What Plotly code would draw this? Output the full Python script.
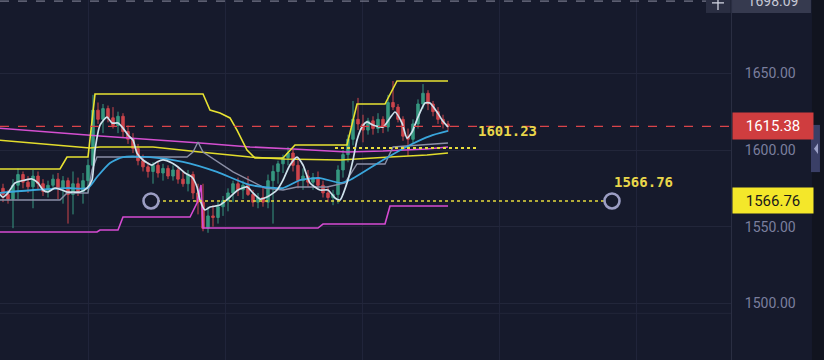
import plotly.graph_objects as go

BG = "#161a2c"

# ---- candles (index, open, high, low, close) ----
idx = list(range(90))
opens = [1575,1571,1568,1577,1584,1579,1576,1583,1578,1573,1577,1581,1575,1580,1571,1578,1573,1580,1590,1626,
         1620,1627,1621,1616,1622,1612,1607,1601,1593,1589,1586,1590,1585,1588,1583,1587,1581,1578,1584,1572,
         1566,1549,1557,1556,1563,1567,1572,1578,1574,1577,1571,1566,1569,1566,1580,1586,1591,1595,1598,1590,
         1580,1583,1579,1582,1577,1572,1569,1571,1587,1597,1607,1620,1617,1613,1619,1614,1620,1615,1631,1628,
         1620,1609,1607,1617,1630,1637,1630,1625,1620,1617]
highs = [1578,1574,1581,1588,1586,1583,1587,1586,1581,1580,1584,1585,1583,1582,1586,1582,1585,1594,1636,1631,
         1630,1629,1628,1625,1624,1616,1611,1604,1597,1592,1592,1593,1591,1590,1590,1589,1586,1587,1586,1578,
         1578,1563,1564,1566,1570,1575,1580,1582,1580,1583,1574,1572,1576,1584,1590,1593,1597,1602,1600,1595,
         1588,1587,1585,1586,1580,1576,1574,1590,1600,1610,1632,1634,1623,1621,1622,1624,1622,1636,1645,1630,
         1622,1614,1620,1633,1643,1639,1632,1628,1623,1619]
lows = [1566,1565,1549,1568,1575,1572,1562,1574,1570,1569,1574,1568,1565,1552,1558,1570,1565,1572,1586,1617,
        1611,1618,1614,1611,1608,1604,1598,1590,1586,1582,1578,1582,1580,1581,1580,1578,1576,1573,1568,1558,
        1547,1546,1550,1552,1557,1560,1566,1570,1568,1570,1563,1562,1563,1562,1552,1578,1585,1590,1586,1575,
        1574,1576,1574,1575,1569,1566,1564,1565,1582,1592,1603,1613,1605,1610,1610,1611,1611,1612,1626,1618,
        1606,1596,1604,1614,1627,1626,1622,1617,1614,1612]
closes = [1571,1568,1577,1584,1579,1576,1583,1578,1573,1577,1581,1575,1580,1571,1578,1573,1580,1590,1626,1620,
          1627,1621,1616,1622,1612,1607,1601,1593,1589,1586,1590,1585,1588,1583,1587,1581,1578,1584,1572,1566,
          1549,1557,1556,1563,1567,1572,1578,1574,1577,1571,1566,1569,1566,1580,1586,1591,1595,1598,1590,1580,
          1583,1579,1582,1577,1572,1569,1571,1587,1597,1607,1620,1617,1613,1619,1614,1620,1615,1631,1628,1620,
          1609,1607,1617,1630,1637,1630,1625,1620,1617,1615.38]

# ---- indicator lines (vertices) ----
upper_x = [-1, 11.4, 12.8, 17, 18.4, 40, 41.4, 43.4, 45.4, 46.8, 48.8, 50.4, 56, 58.4, 68.8, 70.8, 76.4, 78.8, 89]
upper_y = [1587.6, 1587.6, 1595.4, 1595.4, 1636.5, 1636.5, 1626.1, 1624.1, 1620.9, 1613.0, 1600.0, 1594.8,
           1594.8, 1603.3, 1603.3, 1630.0, 1630.0, 1645.0, 1645.0]

lower_x = [-1, 18.8, 19.4, 23, 24, 37.4, 38.8, 39.6, 40, 63, 64, 76.4, 77.4, 89]
lower_y = [1546.5, 1546.5, 1547.8, 1547.8, 1556.3, 1556.3, 1565.4, 1577.2, 1549.1, 1549.1, 1551.7, 1551.7,
           1563.5, 1563.5]

pink_x = [-1, 19.4, 39.4, 49.4, 58, 68.8, 76, 84.8, 89]
pink_y = [1614.3, 1609.1, 1604.6, 1602.0, 1600.7, 1598.7, 1599.3, 1600.7, 1602.0]

slowy_x = [-1, 17.4, 19.4, 30, 39.4, 49.4, 56, 67.4, 77.4, 84.8, 89]
slowy_y = [1606.5, 1601.3, 1602.0, 1602.0, 1598.7, 1595.4, 1594.1, 1593.5, 1595.4, 1596.7, 1598.0]

blue_x = [-1, 6, 12.8, 17, 18.8, 21.4, 24, 29.4, 36, 42.8, 49.4, 56, 59.4, 63.4, 67.4, 69.4, 76, 81.4, 85.4, 89]
blue_y = [1571.9, 1573.9, 1575.2, 1575.2, 1582.4, 1591.5, 1595.4, 1595.4, 1592.2, 1585.7, 1577.2, 1575.2,
          1580.4, 1581.7, 1578.5, 1580.4, 1593.5, 1603.3, 1609.1, 1612.4]

grey_x = [-1, 11.4, 12.8, 17, 17.8, 18.8, 36.8, 38, 39, 40, 46, 49.4, 52.4, 56, 58.8, 64.8, 68.4, 70.8, 76.4, 78, 89]
grey_y = [1567.4, 1567.4, 1572.0, 1572.0, 1587.0, 1595.4, 1595.4, 1598.7, 1605.2, 1598.7, 1585.7, 1580.4,
          1575.2, 1573.9, 1575.9, 1575.9, 1578.5, 1590.9, 1590.9, 1602.0, 1604.6]

fast_x = [-1, 0, 1, 2.4, 4.4, 5.8, 7, 8, 9, 10.4, 11.8, 12.8, 14, 15.4, 16.8, 17.8, 18.4, 19.4, 20.8, 21.8,
          23, 24, 25, 26, 26.8, 28, 29.8, 30.8, 32, 33.8, 35, 36.4, 37.8, 38.8, 39.4, 40.4, 41.4, 43.4, 45.4, 47,
          48.8, 50, 51.4, 52.8, 54.8, 56, 57.4, 58.8, 60, 61.4, 63.4, 65, 66.4, 67.4, 68.8, 70, 70.8, 71.8, 72.8, 74,
          76, 77.4, 78.4, 79.8, 80.8, 81.8, 83, 84.4, 85.4, 86.8, 87.8, 89]
fast_y = [1572.6, 1569.3, 1572.0, 1578.5, 1580.4, 1581.1, 1578.5, 1573.9, 1572.6, 1575.2,
          1573.9, 1572.6, 1572.6, 1572.6, 1575.2, 1580.4, 1600.0, 1616.3, 1621.5, 1617.6,
          1617.6, 1614.3, 1609.8, 1606.5, 1598.0, 1593.5, 1590.2, 1592.2, 1593.5, 1591.5,
          1588.9, 1585.0, 1582.4, 1575.9, 1567.4, 1560.9, 1562.8, 1564.1, 1569.3, 1573.9,
          1575.9, 1572.0, 1568.0, 1569.3, 1573.9, 1580.4, 1590.2, 1595.4, 1590.2, 1578.5,
          1573.9, 1573.9, 1568.7, 1567.4, 1578.5, 1593.5, 1606.5, 1615.0, 1618.3, 1616.3,
          1615.0, 1620.9, 1624.8, 1617.6, 1607.8, 1611.7, 1621.5, 1630.7, 1630.7, 1624.8,
          1619.6, 1615.0]

# ---- drawings / labels ----
last_price = 1615.38
level_a = 1601.23
level_a_x = [66.4, 94.8]
level_b = 1566.76
level_b_x = [29.6, 121.8]
crosshair_price = "1698.09"
ytick_vals = [1500, 1550, 1600, 1650]
xgrid_vals = [17, 44.4, 71.8, 99.2, 126.6]

fig = go.Figure()

fig.add_trace(go.Candlestick(
    x=idx, open=opens, high=highs, low=lows, close=closes,
    increasing=dict(line=dict(color="#3aa58a", width=1), fillcolor="#3aa58a"),
    decreasing=dict(line=dict(color="#e04a4f", width=1), fillcolor="#e04a4f"),
    whiskerwidth=0, opacity=0.9, showlegend=False, hoverinfo="skip"))

def line(x, y, color, width=1.6, shape="linear", dash="solid"):
    fig.add_trace(go.Scatter(x=x, y=y, mode="lines",
                             line=dict(color=color, width=width, shape=shape, dash=dash,
                                       smoothing=0.6 if shape == "spline" else None),
                             showlegend=False, hoverinfo="skip"))

line(pink_x, pink_y, "#d44fd0", 1.6)
line(slowy_x, slowy_y, "#e2dc2c", 1.6)
line(grey_x, grey_y, "#8b8fa6", 1.4)
line(blue_x, blue_y, "#3aa6dc", 1.8, "spline")
line(upper_x, upper_y, "#e8e232", 1.6)
line(lower_x, lower_y, "#d64bd2", 1.6)
line(fast_x, fast_y, "#cfe2ec", 1.7, "spline")

# yellow dotted level 1601.23
line(level_a_x, [level_a, level_a], "#e6dc3c", 2, dash="dot")
# yellow dashed level between circles
line(level_b_x, [level_b, level_b], "#e6dc3c", 1.5, dash="dot")
fig.add_trace(go.Scatter(x=level_b_x, y=[level_b, level_b], mode="markers",
                         marker=dict(symbol="circle", size=15, color=BG,
                                     line=dict(color="#9c9ec4", width=2.6)),
                         showlegend=False, hoverinfo="skip"))

shapes = [
    dict(type="line", xref="paper", x0=0, x1=1, yref="y", y0=last_price, y1=last_price,
         line=dict(color="#d9444a", width=1.2, dash="dash")),
    dict(type="line", xref="paper", x0=0, x1=0.966, yref="paper", y0=0.997, y1=0.997,
         line=dict(color="#8d90a3", width=1, dash="dash")),
    dict(type="line", xref="paper", x0=0, x1=1, yref="y", y0=1493.5, y1=1493.5,
         line=dict(color="#22263a", width=1)),
    # right dark strip
    dict(type="rect", xref="paper", x0=1.1108, x1=1.2, yref="paper", y0=0, y1=1,
         fillcolor="#11141f", line=dict(width=0), layer="below"),
    # collapse tab
    dict(type="rect", xref="paper", x0=1.1094, x1=1.1217, yref="paper", y0=0.522, y1=0.653,
         fillcolor="#3a3f66", line=dict(width=0)),
    dict(type="path", xref="paper", yref="paper",
         path="M 1.1190 0.572 L 1.1190 0.602 L 1.1135 0.587 Z",
         fillcolor="#9da2c8", line=dict(width=0)),
    # crosshair + box
    dict(type="rect", xref="paper", x0=0.9658, x1=0.9995, yref="paper", y0=0.964, y1=1.01,
         fillcolor="#2a2e42", line=dict(width=0)),
    dict(type="rect", xref="paper", x0=1.0014, x1=1.1094, yref="paper", y0=0.964, y1=1.01,
         fillcolor="#363a4f", line=dict(width=0)),
    dict(type="line", xref="paper", x0=0.9822, x1=0.9822, yref="paper", y0=0.972, y1=1.0,
         line=dict(color="#d0d3e0", width=1.3)),
    dict(type="line", xref="paper", x0=0.9740, x1=0.9904, yref="paper", y0=0.992, y1=0.992,
         line=dict(color="#d0d3e0", width=1.3)),
    # small white tick on price label
    dict(type="line", xref="paper", x0=1.0027, x1=1.0096, yref="y", y0=last_price, y1=last_price,
         line=dict(color="#ffffff", width=1.5)),
]

annotations = [
    dict(xref="paper", x=1, xanchor="left", xshift=1, yref="y", y=last_price, yanchor="middle",
         text=f"{last_price:.2f}", showarrow=False, bgcolor="#cf3d3f", width=78, height=24,
         font=dict(family="Roboto", size=15, color="#ffffff"), align="center"),
    dict(xref="paper", x=1, xanchor="left", xshift=1, yref="y", y=level_b, yanchor="middle",
         text=f"{level_b:.2f}", showarrow=False, bgcolor="#f4e72a", width=78, height=23,
         font=dict(family="Roboto", size=15, color="#1a1a1a"), align="center"),
    dict(xref="paper", x=1.0014, xanchor="left", yref="paper", y=0.997, yanchor="middle",
         text=crosshair_price, showarrow=False, width=78,
         font=dict(family="Roboto", size=14, color="#c6c9d6"), align="center"),
    dict(xref="x", x=100.8, yref="y", y=1612.6, text=f"{level_a:.2f}", showarrow=False,
         font=dict(family="DejaVu Sans Mono", size=14, color="#e9d64a"), xanchor="center"),
    dict(xref="x", x=128.0, yref="y", y=1579.0, text=f"{level_b:.2f}", showarrow=False,
         font=dict(family="DejaVu Sans Mono", size=14, color="#e9d64a"), xanchor="center"),
]
for a in annotations[3:]:
    a["text"] = "<b>" + a["text"] + "</b>"

fig.update_layout(
    width=824, height=360,
    margin=dict(l=0, r=93, t=0, b=0),
    paper_bgcolor=BG, plot_bgcolor=BG,
    showlegend=False,
    shapes=shapes, annotations=annotations,
    xaxis=dict(range=[-0.6, 145.6], rangeslider=dict(visible=False), showticklabels=False,
               tickvals=xgrid_vals, ticks="", showgrid=True, gridcolor="#20243a", gridwidth=1,
               zeroline=False, showline=False, fixedrange=True),
    yaxis=dict(range=[1463.04, 1697.83], side="right", tickvals=ytick_vals, tickformat=".2f",
               ticks="", ticklabelstandoff=10, showgrid=True, gridcolor="#22263a", gridwidth=1,
               zeroline=False, showline=True, linecolor="#2a2e42", linewidth=1,
               tickfont=dict(family="Roboto", size=14, color="#7b7f9e"), fixedrange=True),
)

fig.write_html("out.html")
